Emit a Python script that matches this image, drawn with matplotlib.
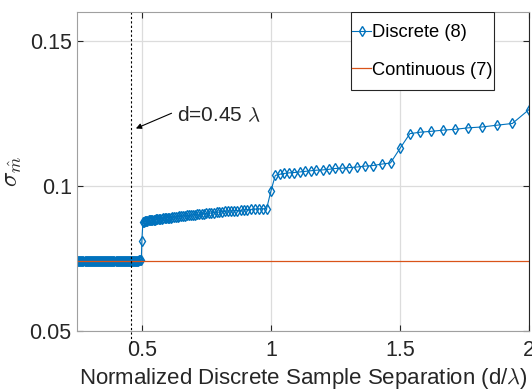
import matplotlib
matplotlib.use("Agg")
import matplotlib.pyplot as plt
from matplotlib.patches import Rectangle

plt.rcParams['font.family'] = ['Liberation Sans', 'DejaVu Sans']
plt.rcParams['mathtext.fontset'] = 'cm'

# sample separation d/lambda
sep_flat = [0.250, 0.254, 0.258, 0.262, 0.266, 0.270, 0.274, 0.278, 0.282, 0.286,
            0.290, 0.294, 0.298, 0.302, 0.306, 0.310, 0.314, 0.318, 0.322, 0.326,
            0.330, 0.334, 0.338, 0.342, 0.346, 0.350, 0.354, 0.358, 0.362, 0.366,
            0.370, 0.374, 0.378, 0.382, 0.386, 0.390, 0.394, 0.398, 0.402, 0.406,
            0.410, 0.414, 0.418, 0.422, 0.426, 0.430, 0.434, 0.438, 0.442, 0.446,
            0.450, 0.454, 0.458, 0.462, 0.466, 0.470, 0.474, 0.478, 0.482, 0.486,
            0.490, 0.494, 0.498]
sig_flat = [0.0742, 0.0742, 0.0742, 0.0742, 0.0742, 0.0742, 0.0742, 0.0742, 0.0742, 0.0742,
            0.0742, 0.0742, 0.0742, 0.0742, 0.0742, 0.0742, 0.0742, 0.0742, 0.0742, 0.0742,
            0.0742, 0.0742, 0.0742, 0.0742, 0.0742, 0.0742, 0.0742, 0.0742, 0.0742, 0.0742,
            0.0742, 0.0742, 0.0742, 0.0742, 0.0742, 0.0742, 0.0742, 0.0742, 0.0742, 0.0742,
            0.0742, 0.0742, 0.0742, 0.0742, 0.0742, 0.0742, 0.0742, 0.0742, 0.0742, 0.0742,
            0.0742, 0.0742, 0.0742, 0.0742, 0.0742, 0.0742, 0.0742, 0.0742, 0.0743, 0.0743,
            0.0744, 0.0744, 0.0745]

sep_mid = [0.5000, 0.5042, 0.5085, 0.5128, 0.5172, 0.5217, 0.5263, 0.5310, 0.5357, 0.5405,
           0.5455, 0.5505, 0.5556, 0.5607, 0.5660, 0.5714, 0.5769, 0.5825, 0.5882, 0.5941,
           0.6000, 0.6061, 0.6122, 0.6186, 0.6250, 0.6316, 0.6383, 0.6452, 0.6522, 0.6593,
           0.6667, 0.6742, 0.6818, 0.6897, 0.6977, 0.7059, 0.7143, 0.7229, 0.7317, 0.7407,
           0.7500, 0.7595, 0.7692, 0.7792, 0.7895, 0.8000, 0.8108, 0.8219, 0.8333, 0.8451,
           0.8571, 0.8696, 0.8824, 0.8955, 0.9091, 0.9231, 0.9375, 0.9524, 0.9677, 0.9836]
sig_mid = [0.0811, 0.0876, 0.0878, 0.0879, 0.0880, 0.0881, 0.0882, 0.0882, 0.0883, 0.0884,
           0.0884, 0.0885, 0.0886, 0.0886, 0.0887, 0.0888, 0.0888, 0.0889, 0.0890, 0.0890,
           0.0891, 0.0892, 0.0892, 0.0893, 0.0894, 0.0894, 0.0895, 0.0896, 0.0896, 0.0897,
           0.0898, 0.0899, 0.0899, 0.0900, 0.0901, 0.0902, 0.0903, 0.0904, 0.0904, 0.0905,
           0.0906, 0.0907, 0.0908, 0.0909, 0.0910, 0.0911, 0.0912, 0.0913, 0.0914, 0.0914,
           0.0915, 0.0916, 0.0917, 0.0918, 0.0919, 0.0920, 0.0921, 0.0922, 0.0922, 0.0923]

sep_high = [1.0000, 1.0169, 1.0345, 1.0526, 1.0714, 1.0909, 1.1111, 1.1321, 1.1538, 1.1765,
            1.2000, 1.2245, 1.2500, 1.2766, 1.3043, 1.3333, 1.3636, 1.3953, 1.4286, 1.4634,
            1.5000, 1.5385, 1.5789, 1.6216, 1.6667, 1.7143, 1.7647, 1.8182, 1.8750, 1.9355,
            2.0000]
sig_high = [0.0983, 0.1037, 0.1041, 0.1044, 0.1046, 0.1047, 0.1049, 0.1051, 0.1053, 0.1055,
            0.1056, 0.1058, 0.1061, 0.1062, 0.1064, 0.1066, 0.1069, 0.1071, 0.1076, 0.1080,
            0.1130, 0.1181, 0.1186, 0.1189, 0.1193, 0.1196, 0.1201, 0.1204, 0.1210, 0.1216,
            0.1264]

sep_discrete = sep_flat + sep_mid + sep_high
sig_discrete = sig_flat + sig_mid + sig_high

sep_cont = [0.25, 2.0]
sig_cont = [0.0742, 0.0742]

d_mark = 0.458

fig = plt.figure(figsize=(5.32, 3.9), dpi=100)
ax = fig.add_axes([0.1453, 0.1505, 0.8491, 0.8187])

ax.plot(sep_discrete, sig_discrete, color='#0072BD', lw=0.8, marker='d',
        markersize=5.5, mfc='none', mew=1.0, label='Discrete (8)')
ax.plot(sep_cont, sig_cont, color='#D95319', lw=0.9, label='Continuous (7)')

ax.axvline(d_mark, ymin=-0.037, ymax=1, color='k', lw=0.8,
           linestyle=(0, (2, 2)), clip_on=False)
ax.annotate('', xy=(0.467, 0.1195), xytext=(0.625, 0.1255),
            arrowprops=dict(arrowstyle='-|>', color='k', lw=0.8, mutation_scale=8))
ax.text(0.636, 0.1245, r'd=0.45 $\lambda$', fontsize=15, va='center', ha='left',
        color='#262626')

ax.set_xlim(0.25, 2)
ax.set_ylim(0.05, 0.16)
ax.set_xticks([0.5, 1, 1.5, 2])
ax.set_xticklabels(['0.5', '1', '1.5', '2'])
ax.set_yticks([0.05, 0.1, 0.15])
ax.set_yticklabels(['0.05', '0.1', '0.15'])
ax.grid(True, color='#dcdcdc', lw=0.9)
ax.set_axisbelow(True)
ax.tick_params(direction='in', length=4, width=0.8, top=True, right=True,
               labelsize=15.5, colors='#262626')
ax.tick_params(axis='x', pad=6)
ax.tick_params(axis='y', pad=4)
for s in ['left', 'bottom', 'top']:
    ax.spines[s].set_color('#a0a0a0')
ax.spines['right'].set_color('#262626')

ax.set_xlabel(r'Normalized Discrete Sample Separation (d/$\lambda$)', fontsize=16,
              color='#262626', labelpad=4)
ax.set_ylabel(r'$\sigma_{\hat{m}}$', fontsize=18, color='#262626', labelpad=4)

# legend frame drawn by hand: tight sides, roomy top and bottom
frame = Rectangle((0.605, 0.7557), 0.318, 0.2443, transform=ax.transAxes,
                  facecolor='white', edgecolor='#262626', lw=0.8, zorder=4)
ax.add_patch(frame)
leg = ax.legend(loc='center', bbox_to_anchor=(0.764, 0.877), borderaxespad=0,
                fontsize=13.2, handlelength=1.05, handletextpad=0.05, labelspacing=1.12,
                frameon=False, borderpad=0.1)
leg.set_zorder(5)

fig.savefig('out.png', dpi=100)
